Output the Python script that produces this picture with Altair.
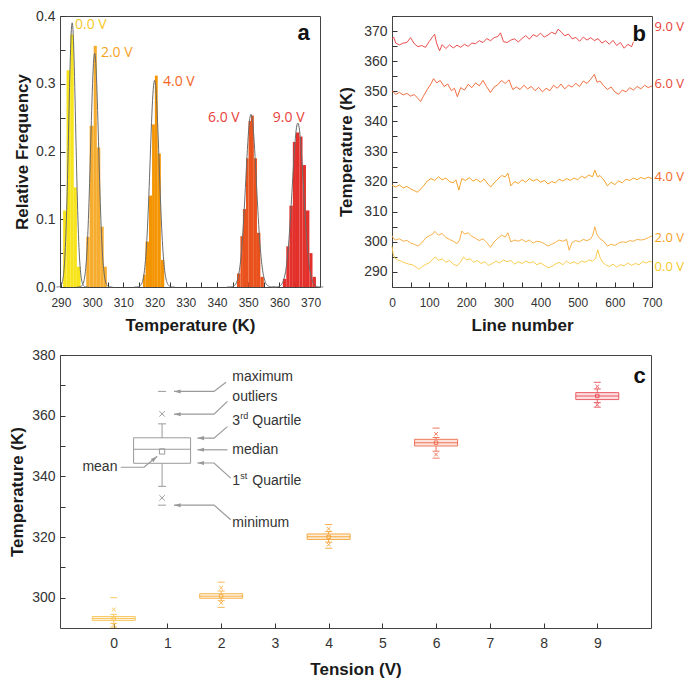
import altair as alt
import numpy as np
import pandas as pd

VOLTS = ["0.0 V", "2.0 V", "4.0 V", "6.0 V", "9.0 V"]

# ---------------- panel a : histograms of the temperature ----------------
hist_edges_0 = [290.7, 291.8, 293.0, 294.1, 295.1, 296.3]
hist_freq_0 = [0.113, 0.320, 0.373, 0.147, 0.030]
hist_edges_2 = [298.1, 299.2, 300.5, 301.5, 302.6, 303.7, 304.7]
hist_freq_2 = [0.074, 0.238, 0.356, 0.206, 0.089, 0.030]
hist_edges_4 = [316.3, 317.1, 318.2, 319.2, 320.1, 321.0, 322.0, 323.1]
hist_freq_4 = [0.018, 0.067, 0.135, 0.240, 0.312, 0.197, 0.040]
hist_edges_6 = [346.4, 347.5, 348.3, 349.3, 350.1, 350.9, 351.8, 352.8, 353.9, 355.0]
hist_freq_6 = [0.020, 0.075, 0.115, 0.190, 0.245, 0.253, 0.190, 0.080, 0.015]
hist_edges_9 = [361.1, 362.2, 363.2, 364.3, 365.3, 366.4, 367.4, 368.5, 369.6, 370.6, 371.7]
hist_freq_9 = [0.012, 0.060, 0.120, 0.214, 0.228, 0.222, 0.180, 0.113, 0.050, 0.015]

# Gaussian fit parameters
fit_center = [293.6, 300.8, 320.0, 350.9, 365.9]
fit_sigma = [1.12, 1.27, 1.44, 1.72, 1.81]
fit_peak = [0.390, 0.345, 0.305, 0.255, 0.242]

label_a_x = [294.5, 302.8, 322.7, 337.1, 357.9]
label_a_y = [0.387, 0.346, 0.303, 0.249, 0.249]

HIST_COLORS = ["#f7e41a", "#f6ad2f", "#f39400", "#e9521c", "#e4302b"]
LABEL_A_COLORS = ["#f6c928", "#f4a21e", "#f26424", "#e8413b", "#e8413b"]

# ---------------- panel b : temperature along the line ----------------
b9_line = [0, 5, 10, 20, 30, 40, 50, 60, 70, 80, 90, 100, 110, 115, 120, 128, 135, 145, 155, 165, 175, 185, 195, 205, 215, 225, 235, 245, 255, 265, 275, 285, 292, 300, 310, 320, 330, 340, 350, 360, 370, 380, 390, 400, 410, 420, 430, 440, 447, 455, 465, 475, 485, 495, 505, 515, 525, 535, 545, 555, 565, 575, 585, 595, 605, 615, 625, 635, 645, 650]
b9_temp = [367.5, 367.9, 366.0, 365.4, 366.0, 366.2, 367.8, 365.8, 364.8, 365.2, 364.6, 366.5, 368.2, 368.9, 366.0, 363.4, 365.5, 364.2, 365.4, 364.4, 365.3, 364.6, 365.6, 364.9, 366.0, 365.8, 366.8, 366.2, 367.5, 366.8, 367.8, 368.2, 369.4, 366.5, 366.2, 367.0, 367.4, 366.4, 367.5, 368.5, 367.3, 368.8, 368.2, 369.3, 368.0, 368.7, 369.6, 369.0, 370.6, 369.8, 368.4, 369.0, 367.4, 367.9, 366.6, 368.0, 367.0, 367.8, 366.8, 367.5, 366.0, 366.8, 365.6, 366.9, 365.2, 366.2, 364.3, 365.6, 364.8, 366.4]

b6_line = [0, 10, 20, 30, 40, 50, 60, 70, 77, 85, 95, 105, 112, 120, 130, 140, 150, 160, 168, 176, 185, 195, 205, 215, 225, 235, 245, 255, 265, 275, 285, 295, 305, 315, 325, 335, 345, 355, 365, 375, 385, 395, 405, 415, 425, 435, 445, 455, 465, 475, 485, 495, 505, 515, 525, 535, 545, 552, 560, 570, 580, 590, 600, 610, 620, 630, 640, 650, 660, 670, 680, 690, 700]
b6_temp = [350.2, 349.0, 349.6, 348.8, 349.3, 348.4, 348.9, 347.6, 346.6, 348.5, 350.6, 352.5, 354.2, 352.8, 353.6, 351.6, 352.4, 350.2, 351.0, 348.2, 351.2, 350.4, 352.3, 351.2, 352.8, 351.8, 353.6, 351.5, 349.6, 351.4, 352.2, 353.6, 352.6, 353.8, 350.6, 351.4, 350.6, 352.0, 350.8, 351.6, 350.2, 351.3, 349.8, 351.0, 350.2, 352.0, 351.0, 352.4, 350.8, 352.0, 351.4, 352.6, 351.6, 353.4, 352.6, 354.0, 355.6, 353.0, 353.4, 351.8, 350.6, 351.4, 349.8, 349.0, 350.4, 349.8, 351.2, 350.4, 351.6, 350.8, 352.0, 351.2, 351.8]

b4_line = [0, 10, 20, 30, 40, 50, 60, 68, 75, 85, 95, 105, 115, 125, 135, 145, 155, 165, 172, 180, 188, 198, 208, 218, 228, 238, 248, 258, 266, 275, 285, 295, 305, 312, 320, 330, 340, 350, 360, 370, 380, 390, 400, 410, 420, 430, 440, 450, 460, 470, 480, 490, 500, 510, 520, 530, 540, 546, 553, 560, 570, 580, 590, 600, 610, 620, 630, 640, 650, 660, 670, 680, 690, 700]
b4_temp = [318.8, 318.2, 318.9, 317.9, 318.4, 317.6, 317.0, 316.5, 317.2, 318.6, 320.2, 321.0, 320.4, 321.6, 320.6, 321.2, 320.0, 319.6, 320.6, 317.2, 321.0, 320.4, 321.3, 320.2, 320.8, 319.8, 320.9, 319.2, 318.2, 319.6, 320.8, 322.0, 321.6, 322.8, 318.6, 320.0, 319.4, 320.6, 319.8, 321.0, 320.2, 320.8, 319.8, 320.4, 319.2, 320.0, 319.6, 320.8, 320.2, 321.0, 320.4, 321.2, 320.6, 321.8, 321.2, 322.2, 321.6, 323.8, 321.6, 322.0, 320.6, 318.6, 319.8, 319.0, 320.2, 319.6, 320.8, 320.4, 321.2, 320.6, 321.4, 320.9, 321.5, 321.0]

b2_line = [0, 5, 10, 20, 30, 40, 50, 60, 70, 80, 90, 100, 110, 115, 125, 135, 145, 155, 165, 175, 182, 188, 195, 205, 215, 225, 235, 245, 255, 265, 275, 285, 295, 305, 312, 320, 330, 340, 350, 360, 370, 380, 390, 400, 410, 420, 430, 440, 450, 460, 470, 477, 485, 495, 505, 515, 525, 535, 540, 546, 552, 560, 570, 580, 590, 600, 610, 620, 630, 640, 650, 660, 670, 680, 690, 700]
b2_temp = [302.0, 301.0, 300.6, 301.0, 300.2, 300.5, 299.6, 299.2, 298.6, 299.6, 301.2, 302.0, 302.6, 303.5, 302.2, 302.8, 301.4, 300.8, 300.2, 299.4, 300.6, 303.6, 302.6, 303.0, 301.8, 301.2, 300.4, 301.0, 299.8, 298.2, 300.0, 301.2, 302.2, 301.6, 303.0, 300.0, 300.6, 300.2, 300.8, 300.0, 300.6, 299.6, 300.2, 300.0, 299.4, 298.6, 299.2, 299.8, 300.6, 300.2, 300.8, 297.2, 299.8, 300.4, 300.0, 300.8, 300.4, 301.0, 302.0, 305.0, 302.4, 301.0, 300.2, 298.6, 299.2, 298.8, 299.6, 300.0, 299.8, 300.4, 300.2, 300.8, 300.6, 300.8, 301.4, 302.0]

b0_line = [0, 3, 8, 15, 25, 35, 45, 55, 65, 73, 82, 92, 100, 110, 117, 125, 135, 145, 155, 165, 175, 185, 193, 200, 210, 220, 230, 240, 250, 260, 270, 280, 290, 300, 310, 320, 330, 340, 350, 360, 370, 380, 390, 400, 410, 420, 430, 440, 450, 460, 470, 480, 490, 500, 510, 520, 530, 540, 548, 554, 560, 567, 575, 585, 595, 605, 615, 625, 635, 645, 655, 665, 675, 685, 695, 700]
b0_temp = [298.5, 296.0, 294.6, 294.0, 293.6, 293.0, 292.6, 292.4, 291.6, 290.9, 291.8, 292.6, 293.0, 294.2, 295.0, 293.8, 294.4, 293.2, 293.8, 292.6, 292.0, 293.4, 295.0, 294.0, 294.4, 293.2, 293.8, 292.8, 293.4, 292.2, 292.8, 293.6, 293.0, 294.0, 293.4, 293.8, 292.6, 293.4, 292.8, 293.6, 293.0, 293.4, 292.4, 293.0, 292.2, 291.4, 291.8, 292.6, 293.2, 292.4, 293.6, 292.8, 293.4, 292.6, 293.6, 293.2, 294.0, 293.6, 294.4, 297.4, 294.8, 293.2, 292.4, 291.8, 292.6, 291.6, 292.4, 292.0, 293.0, 292.2, 292.8, 292.4, 293.4, 293.0, 293.6, 293.2]

LINE_COLORS = ["#f8c63c", "#f6a733", "#f29612", "#ef5d2b", "#e83b3b"]
label_b_x = [707, 707, 707, 707, 707]
label_b_y = [291.6, 301.2, 321.4, 352.3, 371.4]
LABEL_B_COLORS = ["#f6c928", "#f4a21e", "#f06a28", "#e84a3a", "#e8413b"]

# ---------------- panel c : box plots ----------------
box_tension = [0, 2, 4, 6, 9]
box_max = [300.0, 305.1, 324.1, 355.9, 371.0]
box_out_hi = [296.1, 303.3, 322.7, 354.0, 369.6]
box_whi = [294.5, 302.2, 321.8, 352.8, 368.8]
box_q3 = [293.8, 301.3, 321.0, 352.2, 367.6]
box_med = [293.1, 300.5, 320.1, 351.1, 366.5]
box_mean = [293.1, 300.5, 320.0, 351.1, 366.5]
box_q1 = [292.5, 299.8, 319.2, 350.0, 365.3]
box_wlo = [291.5, 299.0, 318.3, 348.3, 364.3]
box_out_lo = [291.0, 298.3, 317.5, 347.2, 363.6]
box_min = [290.3, 296.8, 316.3, 346.0, 362.8]
BOX_COLORS = ["#f9c04a", "#f7aa3a", "#f59b22", "#ef6040", "#e8404a"]

# explanatory grey box
ex_tension = [0.9]
ex_max = [368.0]
ex_out_hi = [360.6]
ex_whi = [357.3]
ex_q3 = [352.7]
ex_med = [348.9]
ex_mean = [348.2]
ex_q1 = [344.3]
ex_wlo = [336.7]
ex_out_lo = [332.9]
ex_min = [330.5]

# annotation texts and arrow paths (data coordinates)
note_text = ["maximum", "outliers", "median", "minimum"]
note_x = [2.208, 2.208, 2.208, 2.208]
note_y = [372.6, 366.0, 348.75, 324.6]
quart_base = ["3", "1"]
quart_sup = ["rd", "st"]
quart_y = [358.1, 338.6]
mean_text_x = [0.069]
mean_text_y = [343.0]

arrow_id = [0, 0, 0, 1, 1, 1, 2, 2, 2, 3, 3, 4, 4, 4, 5, 5, 5, 6, 6, 6]
arrow_x = [2.09, 1.867, 1.122, 2.116, 1.867, 1.122, 2.116, 1.867, 1.557, 2.116, 1.557,
           2.178, 1.867, 1.557, 2.178, 1.867, 1.122, 0.13, 0.564, 0.81]
arrow_y = [371.0, 368.0, 368.0, 364.7, 360.5, 360.5, 356.4, 352.6, 352.6, 348.75, 348.75,
           339.4, 344.4, 344.4, 325.7, 330.5, 330.5, 343.0, 343.0, 346.6]
head_x = [1.122, 1.122, 1.557, 1.557, 1.557, 1.122]
head_y = [368.0, 360.5, 352.6, 348.75, 344.4, 330.5]
mean_head_x = [0.81]
mean_head_y = [346.6]

# ======================================================================
FONT = "Liberation Sans"


def inward_axis(values, test, fmt, title, label_size, label_pad, title_pad):
    return alt.Axis(
        values=values,
        labelExpr=f"({test}) ? format(datum.value, '{fmt}') : ''",
        tickSize=5, offset=-5, domain=False, grid=False,
        tickColor="#333", tickWidth=1,
        labelPadding=label_pad, labelFontSize=label_size, labelFont=FONT,
        labelColor="#333", labelFlush=False, labelOverlap=False,
        title=title, titleFont=FONT, titleFontSize=17, titleFontWeight="bold",
        titleColor="#1a1a1a", titlePadding=title_pad,
    )


# ---------- panel a ----------
hist_rows = []
for v, edges, freqs, col in zip(VOLTS, [hist_edges_0, hist_edges_2, hist_edges_4, hist_edges_6, hist_edges_9],
                                [hist_freq_0, hist_freq_2, hist_freq_4, hist_freq_6, hist_freq_9], HIST_COLORS):
    for i, f in enumerate(freqs):
        hist_rows.append({"Series": v, "lo": edges[i], "hi": edges[i + 1], "freq": f, "hex": col})
hist_df = pd.DataFrame(hist_rows)

fit_rows = []
for v, c, s, p in zip(VOLTS, fit_center, fit_sigma, fit_peak):
    for t in np.linspace(c - 4.5 * s, c + 4.5 * s, 121):
        fit_rows.append({"Series": v, "lo": float(t), "freq": float(p * np.exp(-((t - c) ** 2) / (2 * s * s)))})
fit_df = pd.DataFrame(fit_rows)

lab_a_df = pd.DataFrame({"lab": VOLTS, "lo": label_a_x, "freq": label_a_y, "hex": LABEL_A_COLORS})

a_xs = alt.Scale(domain=[289.7, 373.0], nice=False, zero=False, padding=0)
a_ys = alt.Scale(domain=[0, 0.4], nice=False, padding=0)
a_xax = inward_axis(list(range(290, 371, 5)), "datum.value % 10 === 0", "d", "Temperature (K)", 12, 10, 9)
a_yax = inward_axis([round(0.05 * i, 2) for i in range(9)],
                    "abs(datum.value*10 - round(datum.value*10)) < 0.001", ".1f",
                    "Relative Frequency", 14, 5, 4)


def ax_a():
    return alt.X("lo:Q", scale=a_xs, axis=a_xax)


def ay_a():
    return alt.Y("freq:Q", scale=a_ys, axis=a_yax)


bars_a = alt.Chart(hist_df).mark_rect(strokeWidth=0).encode(
    x=ax_a(), x2="hi:Q", y=ay_a(), y2=alt.Y2Datum(0), color=alt.Color("hex:N", scale=None))
fit_a = alt.Chart(fit_df).mark_line(color="#6a6a6a", strokeWidth=1).encode(
    x=ax_a(), y=ay_a(), detail="Series:N")
text_a = alt.Chart(lab_a_df).mark_text(font="Open Sans", fontSize=14, align="left", baseline="middle").encode(
    x=ax_a(), y=ay_a(), text="lab:N", color=alt.Color("hex:N", scale=None))
letter_a = alt.Chart(pd.DataFrame({"t": ["a"], "lo": [369.7], "freq": [0.375]})).mark_text(
    font=FONT, fontSize=22, fontWeight="bold", align="right", baseline="middle", color="#111").encode(
    x=ax_a(), y=ay_a(), text="t:N")
panel_a = alt.layer(bars_a, fit_a, text_a, letter_a).properties(width=260, height=271)

# ---------- panel b ----------
b_rows = []
for v, xs, ys, col in zip(VOLTS, [b0_line, b2_line, b4_line, b6_line, b9_line],
                          [b0_temp, b2_temp, b4_temp, b6_temp, b9_temp], LINE_COLORS):
    for x, y in zip(xs, ys):
        b_rows.append({"Trace": v, "line": x, "temp": y, "hex": col})
b_df = pd.DataFrame(b_rows)
lab_b_df = pd.DataFrame({"lab": VOLTS, "line": label_b_x, "temp": label_b_y, "hex": LABEL_B_COLORS})

b_xs = alt.Scale(domain=[0, 700], nice=False, padding=0)
b_ys = alt.Scale(domain=[285, 375], nice=False, zero=False, padding=0)
b_xax = inward_axis(list(range(0, 701, 50)), "datum.value % 100 === 0", "d", "Line number", 12, 10, 9)
b_yax = inward_axis(list(range(290, 376, 5)), "datum.value % 10 === 0 && datum.value <= 370", "d",
                    "Temperature (K)", 14, 5, 8)


def ax_b():
    return alt.X("line:Q", scale=b_xs, axis=b_xax)


def ay_b():
    return alt.Y("temp:Q", scale=b_ys, axis=b_yax)


lines_b = alt.Chart(b_df).mark_line(strokeWidth=0.9).encode(
    x=ax_b(), y=ay_b(), detail="Trace:N", color=alt.Color("hex:N", scale=None), order="line:Q")
text_b = alt.Chart(lab_b_df).mark_text(font="Open Sans", fontSize=13, align="left", baseline="middle").encode(
    x=ax_b(), y=ay_b(), text="lab:N", color=alt.Color("hex:N", scale=None))
letter_b = alt.Chart(pd.DataFrame({"t": ["b"], "line": [684], "temp": [369.0]})).mark_text(
    font=FONT, fontSize=22, fontWeight="bold", align="right", baseline="middle", color="#111").encode(
    x=ax_b(), y=ay_b(), text="t:N")
panel_b = alt.layer(lines_b, text_b, letter_b).properties(width=260, height=271)

# ---------- panel c ----------
c_xs = alt.Scale(domain=[-1, 10], nice=False, zero=False, padding=0)
c_ys = alt.Scale(domain=[290, 380], nice=False, zero=False, padding=0)
c_xax = inward_axis(list(range(0, 10)), "true", "d", "Tension (V)", 14, 8, 11)
c_yax = inward_axis(list(range(300, 381, 10)), "datum.value % 20 === 0", "d", "Temperature (K)", 14, 5, 5)


def ax_c(field="tension"):
    return alt.X(f"{field}:Q", scale=c_xs, axis=c_xax)


def ay_c(field):
    return alt.Y(f"{field}:Q", scale=c_ys, axis=c_yax)


box_df = pd.DataFrame({"tension": box_tension, "mx": box_max, "ohi": box_out_hi, "whi": box_whi,
                       "q3": box_q3, "med": box_med, "mean": box_mean, "q1": box_q1, "wlo": box_wlo,
                       "olo": box_out_lo, "mn": box_min, "hex": BOX_COLORS})
ex_df = pd.DataFrame({"tension": ex_tension, "mx": ex_max, "ohi": ex_out_hi, "whi": ex_whi,
                      "q3": ex_q3, "med": ex_med, "mean": ex_mean, "q1": ex_q1, "wlo": ex_wlo,
                      "olo": ex_out_lo, "mn": ex_min, "hex": ["#9a9a9a"]})

XSHAPE = "M-1,-1L1,1M-1,1L1,-1"


def box_layers(df, box_w, cap_w, fill_op, x_size, sq_size, op):
    col = alt.Color("hex:N", scale=None)
    strk = alt.Stroke("hex:N", scale=None)
    base = alt.Chart(df)
    out = [
        base.mark_rule(strokeWidth=1, opacity=op).encode(x=ax_c(), y=ay_c("q3"), y2="whi:Q", color=col),
        base.mark_rule(strokeWidth=1, opacity=op).encode(x=ax_c(), y=ay_c("wlo"), y2="q1:Q", color=col),
        base.mark_bar(size=box_w, strokeWidth=1, fillOpacity=fill_op, opacity=op).encode(
            x=ax_c(), y=ay_c("q1"), y2="q3:Q", color=col, stroke=strk),
        base.mark_tick(orient="horizontal", size=box_w, thickness=1, opacity=op).encode(
            x=ax_c(), y=ay_c("med"), color=col),
    ]
    for f in ["whi", "wlo", "mx", "mn"]:
        out.append(base.mark_tick(orient="horizontal", size=cap_w, thickness=1, opacity=op).encode(
            x=ax_c(), y=ay_c(f), color=col))
    for f in ["ohi", "olo"]:
        out.append(base.mark_point(shape=XSHAPE, size=x_size, filled=False, strokeWidth=1, opacity=op).encode(
            x=ax_c(), y=ay_c(f), color=col))
    out.append(base.mark_point(shape="square", size=sq_size, filled=False, strokeWidth=1, opacity=op).encode(
        x=ax_c(), y=ay_c("mean"), color=col))
    return out


ex_layers = box_layers(ex_df, 57, 8, 0.0, 30, 28, 1.0)
col_layers = box_layers(box_df, 43, 7, 0.2, 14, 12, 0.85)

arrow_df = pd.DataFrame({"id": arrow_id, "ax": arrow_x, "ay": arrow_y, "ord": list(range(len(arrow_id)))})
arrows = alt.Chart(arrow_df).mark_line(color="#9a9a9a", strokeWidth=1.2).encode(
    x=ax_c("ax"), y=ay_c("ay"), detail="id:N", order="ord:Q")
heads = alt.Chart(pd.DataFrame({"hx": head_x, "hy": head_y})).mark_point(
    shape="M0,0L2,-0.6L2,0.6Z", size=45, filled=True, color="#9a9a9a", opacity=1).encode(
    x=ax_c("hx"), y=ay_c("hy"))
mean_head = alt.Chart(pd.DataFrame({"hx": mean_head_x, "hy": mean_head_y})).mark_point(
    shape="M0,0L2,-0.6L2,0.6Z", size=45, filled=True, color="#9a9a9a", opacity=1, angle=140.5).encode(
    x=ax_c("hx"), y=ay_c("hy"))

note_df = pd.DataFrame({"txt": note_text, "nx": note_x, "ny": note_y})
notes = alt.Chart(note_df).mark_text(font=FONT, fontSize=14, align="left", baseline="middle", color="#333").encode(
    x=ax_c("nx"), y=ay_c("ny"), text="txt:N")
q_df = pd.DataFrame({"b": quart_base, "s": quart_sup, "nx": [2.208, 2.208], "ny": quart_y})
q_base = alt.Chart(q_df).mark_text(font=FONT, fontSize=14, align="left", baseline="middle", color="#333").encode(
    x=ax_c("nx"), y=ay_c("ny"), text="b:N")
q_sup = alt.Chart(q_df).mark_text(font=FONT, fontSize=9, align="left", baseline="middle", color="#333",
                                  dx=8, dy=-5).encode(x=ax_c("nx"), y=ay_c("ny"), text="s:N")
q_word = alt.Chart(q_df.assign(w="Quartile")).mark_text(font=FONT, fontSize=14, align="left", baseline="middle",
                                                         color="#333", dx=20).encode(
    x=ax_c("nx"), y=ay_c("ny"), text="w:N")
mean_txt = alt.Chart(pd.DataFrame({"t": ["mean"], "nx": mean_text_x, "ny": mean_text_y})).mark_text(
    font=FONT, fontSize=14, align="right", baseline="middle", color="#333").encode(
    x=ax_c("nx"), y=ay_c("ny"), text="t:N")
letter_c = alt.Chart(pd.DataFrame({"t": ["c"], "nx": [9.9], "ny": [373.0]})).mark_text(
    font=FONT, fontSize=22, fontWeight="bold", align="right", baseline="middle", color="#111").encode(
    x=ax_c("nx"), y=ay_c("ny"), text="t:N")

panel_c = alt.layer(*col_layers, *ex_layers, arrows, heads, mean_head, notes, q_base, q_sup, q_word,
                    mean_txt, letter_c).properties(width=591, height=273)

chart = alt.vconcat(
    alt.hconcat(panel_a, panel_b, spacing=11),
    panel_c,
    spacing=13,
).configure_view(stroke="#444", strokeWidth=1).properties(
    padding={"left": 0, "top": 0, "right": 0, "bottom": 0})

chart.save("out.html", embed_options={"renderer": "svg", "actions": False})
